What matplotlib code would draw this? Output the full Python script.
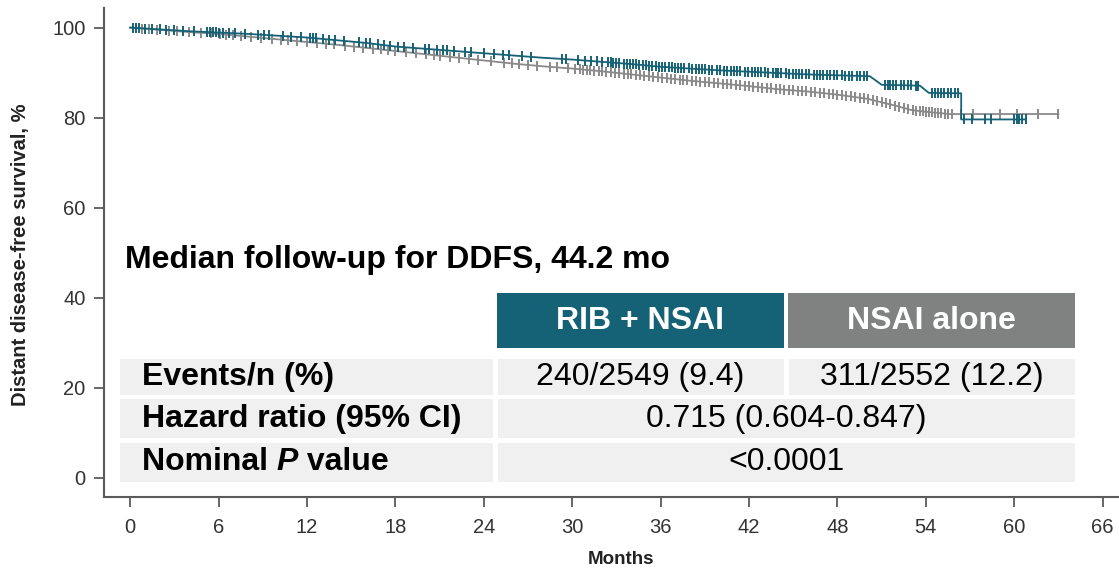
import numpy as np
import matplotlib.pyplot as plt
from matplotlib.patches import Rectangle

plt.rcParams['font.family'] = ['Liberation Sans', 'DejaVu Sans']

# Kaplan-Meier curves (months, DDFS %)
months_rib = [0, 2, 4, 6, 8, 10, 12, 14, 16, 18, 20, 22, 24, 26, 28, 30, 32, 34, 36,
              38, 40, 42, 44, 46, 48, 50.2, 51.0, 53.6, 54.2, 56.4, 56.4, 60.8]
surv_rib = [100, 99.6, 99.2, 98.9, 98.6, 98.2, 97.8, 97.2, 96.6, 95.8, 95.3, 94.8, 94.3,
            93.8, 93.3, 92.9, 92.4, 91.9, 91.3, 90.9, 90.5, 90.2, 89.9, 89.6, 89.4,
            89.2, 87.3, 87.1, 85.5, 85.4, 79.6, 79.6]
months_nsai = [0, 2, 4, 6, 8, 10, 12, 14, 16, 18, 20, 22, 24, 26, 28, 30, 32, 34, 36,
               38, 40, 42, 44, 46, 48, 50, 52, 53, 54, 55.6, 63.0]
surv_nsai = [100, 99.5, 99.0, 98.6, 98.0, 97.4, 96.8, 96.2, 95.5, 94.8, 94.1, 93.4, 92.7,
             92.0, 91.4, 90.9, 90.3, 89.6, 88.9, 88.2, 87.6, 87.0, 86.3, 85.8, 85.1,
             84.2, 82.6, 81.7, 81.3, 80.8, 80.8]

# censoring times (tick marks)
cens_rib = [0.2, 0.4, 0.6, 1.0, 1.5, 2.0, 2.4, 3.0, 3.6, 4.3, 5.2, 5.4, 5.6, 5.8, 6.0,
            6.3, 6.7, 7.1, 7.8, 8.7, 9.1, 9.4, 10.4, 10.9, 11.6, 12.2, 12.4, 12.6, 13.1,
            13.5, 13.9, 14.5, 15.5, 16.0, 16.3, 16.8, 17.2, 17.6, 18.2, 18.6, 19.2, 20.0,
            20.3, 20.8, 21.2, 21.5, 22.0, 22.7, 23.1, 24.0, 24.7, 25.3, 25.7, 26.6, 27.2,
            29.3, 29.6, 30.4, 30.9, 31.3, 31.7, 32.0, 32.4, 32.6, 32.8, 33.0, 33.2, 33.5,
            33.7, 33.9, 34.1, 34.3, 34.5, 34.8, 35.0, 35.2, 35.4, 35.7, 35.9, 36.1, 36.3,
            36.6, 36.8, 37.0, 37.2, 37.4, 37.6, 37.9, 38.1, 38.4, 38.6, 38.8, 39.0, 39.3,
            39.5, 39.8, 40.0, 40.3, 40.5, 40.8, 41.0, 41.2, 41.4, 41.7, 41.9, 42.2, 42.4,
            42.6, 42.8, 43.1, 43.3, 43.6, 43.8, 44.0, 44.2, 44.5, 44.7, 45.0, 45.2, 45.4,
            45.6, 45.9, 46.1, 46.4, 46.6, 46.8, 47.0, 47.3, 47.5, 47.8, 48.0, 48.3, 48.5,
            48.8, 49.0, 49.3, 49.5, 49.8, 50.0, 51.2, 51.4, 51.6, 51.8, 52.0, 52.3, 52.5,
            52.8, 53.0, 53.3, 53.5, 54.4, 54.6, 54.8, 55.0, 55.2, 55.5, 55.7, 56.0, 56.2,
            56.6, 57.1, 58.0, 58.4, 60.0, 60.2, 60.3, 60.5, 60.8]
cens_nsai = [0.4, 0.8, 1.3, 1.8, 2.6, 3.2, 4.0, 4.8, 5.5, 6.1, 6.5, 7.0, 7.5, 8.2, 8.9,
             9.6, 10.2, 10.7, 11.3, 12.0, 12.7, 13.3, 13.8, 14.6, 15.2, 15.8, 16.5,
             17.0, 17.5, 18.0, 18.7, 19.4, 20.1, 20.6, 21.0, 21.7, 22.3, 23.0, 23.6,
             24.5, 25.4, 25.9, 26.4, 27.0, 27.6, 28.5, 29.0, 29.7, 30.2, 30.5, 30.7,
             31.0, 31.2, 31.5, 31.8, 32.0, 32.3, 32.6, 32.9, 33.2, 33.5, 33.8, 34.0,
             34.3, 34.6, 34.9, 35.2, 35.5, 35.8, 36.1, 36.4, 36.7, 37.0, 37.3, 37.5,
             37.8, 38.1, 38.4, 38.7, 39.0, 39.3, 39.6, 39.9, 40.2, 40.5, 40.8, 41.1,
             41.4, 41.7, 42.0, 42.3, 42.6, 42.9, 43.2, 43.5, 43.8, 44.1, 44.4, 44.7,
             45.0, 45.3, 45.6, 45.9, 46.2, 46.5, 46.8, 47.1, 47.4, 47.7, 48.0, 48.3,
             48.6, 48.9, 49.2, 49.5, 49.8, 50.1, 50.4, 50.7, 51.0, 51.3, 51.6, 51.9,
             52.2, 52.5, 52.8, 53.1, 53.3, 53.6, 53.8, 54.0, 54.2, 54.4, 54.6, 54.8,
             55.0, 55.3, 55.5, 55.8, 56.4, 57.2, 59.0, 60.2, 61.6, 63.0]

x_ticks = [0, 6, 12, 18, 24, 30, 36, 42, 48, 54, 60, 66]
y_ticks = [0, 20, 40, 60, 80, 100]

# summary table
arms = ['RIB + NSAI', 'NSAI alone']
row_labels = ['Events/n (%)', 'Hazard ratio (95% CI)', 'Nominal P value']
events = ['240/2549 (9.4)', '311/2552 (12.2)']
hazard_ratio = '0.715 (0.604-0.847)'
p_value = '<0.0001'
note = 'Median follow-up for DDFS, 44.2 mo'

TEAL = '#156276'
GREY = '#8a8a8a'
HEAD_GREY = '#7f8280'
CELL = '#f0f0f0'
SPINE = '#5a5a5a'

W, H = 1119, 570
fig = plt.figure(figsize=(W / 100, H / 100), dpi=100)
ax = fig.add_axes([103.7 / W, 72.7 / H, (1138 - 103.7) / W, 489.5 / H])


def curve_value(months, surv, times):
    # height of the curve at each censor time (level before a vertical drop)
    out = []
    for t in times:
        i = np.searchsorted(months, t, side='left')
        out.append(np.interp(t, months[:i + 1], surv[:i + 1]))
    return out


for m, s, c, col in [(months_nsai, surv_nsai, cens_nsai, GREY),
                     (months_rib, surv_rib, cens_rib, TEAL)]:
    ax.plot(m, s, color=col, lw=1.3)
    ax.plot(c, curve_value(m, s, c), ls='none', marker='|', ms=6.5, mew=1.4, color=col)

ax.set_xlim(-1.8, 68.4)
ax.set_ylim(-4.35, 104.4)
ax.set_xticks(x_ticks)
ax.set_yticks(y_ticks)
for side in ['top', 'right']:
    ax.spines[side].set_visible(False)
for side in ['left', 'bottom']:
    ax.spines[side].set_color(SPINE)
    ax.spines[side].set_linewidth(1.5)
ax.tick_params(direction='out', length=7, width=1.3, color=SPINE,
               labelsize=14.5, labelcolor='#333333')
ax.tick_params(axis='x', pad=8)
ax.tick_params(axis='y', pad=6)
ax.patch.set_visible(False)

fig.text(21 / W, 1 - 255 / H, 'Distant disease-free survival, %', rotation=90,
         ha='center', va='center', fontsize=14.5, fontweight='bold', color='#222222')
fig.text(621 / W, 1 - 560 / H, 'Months', ha='center', va='center',
         fontsize=13.5, fontweight='bold', color='#222222')

# overlay in pixel coordinates for the table
ov = fig.add_axes([0, 0, 1, 1])
ov.set_xlim(0, W)
ov.set_ylim(H, 0)
ov.axis('off')

ov.text(125, 260, note, fontsize=23, fontweight='bold', va='center', ha='left')

heads = [(497, 784, TEAL), (788, 1075, HEAD_GREY)]
for (x0, x1, col), name in zip(heads, arms):
    ov.add_patch(Rectangle((x0, 293), x1 - x0, 55, color=col, lw=0))
    ov.text((x0 + x1) / 2, 321, name, color='white', fontsize=23,
            fontweight='bold', ha='center', va='center')

rows = [(359, 395), (399, 438), (443, 482)]
for (y0, y1) in rows:
    ov.add_patch(Rectangle((120, y0), 493 - 120, y1 - y0, color=CELL, lw=0))
for (x0, x1, _), val in zip(heads, events):
    y0, y1 = rows[0]
    ov.add_patch(Rectangle((x0 + 1, y0), x1 - x0 - 1, y1 - y0, color=CELL, lw=0))
    ov.text((x0 + x1) / 2, (y0 + y1) / 2, val, fontsize=23, ha='center', va='center')
for (y0, y1), val in zip(rows[1:], [hazard_ratio, p_value]):
    ov.add_patch(Rectangle((498, y0), 1075 - 498, y1 - y0, color=CELL, lw=0))
    ov.text((498 + 1075) / 2, (y0 + y1) / 2, val, fontsize=23, ha='center', va='center')

for (y0, y1), lab in zip(rows[:2], row_labels[:2]):
    ov.text(142, (y0 + y1) / 2, lab, fontsize=23, fontweight='bold', ha='left', va='center')

# "Nominal P value" with italic P
y0, y1 = rows[2]
t1 = ov.text(142, (y0 + y1) / 2, 'Nominal ', fontsize=23, fontweight='bold',
             ha='left', va='center')
t2 = ov.annotate('P', xy=(1, 0), xycoords=t1, va='bottom', ha='left',
                 fontsize=23, fontweight='bold', fontstyle='italic')
ov.annotate(' value', xy=(1, 0), xycoords=t2, va='bottom', ha='left',
            fontsize=23, fontweight='bold')

fig.savefig('out.png', dpi=100)
